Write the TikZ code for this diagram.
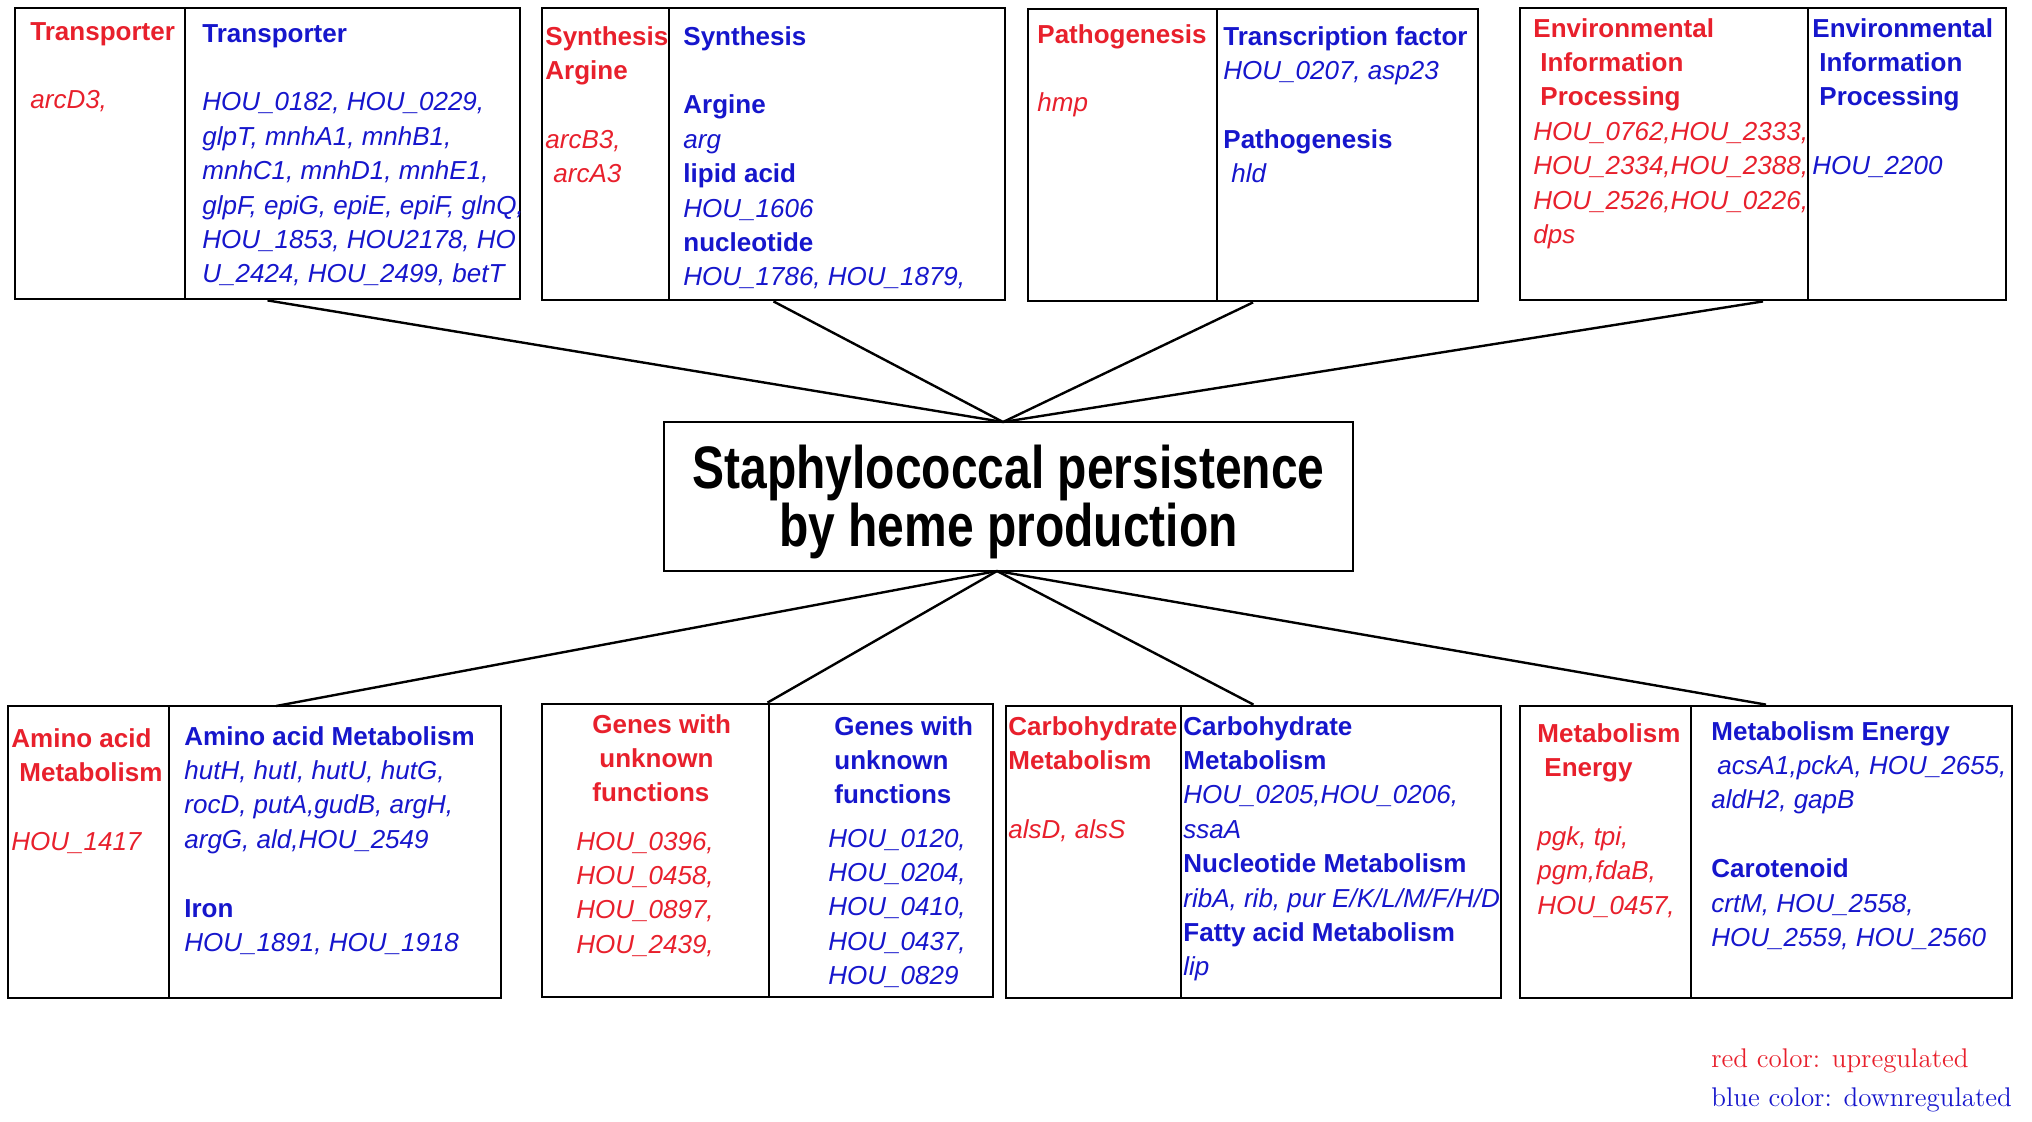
\documentclass[tikz,border=0pt]{standalone}
\usepackage{fontspec}
\setsansfont{Liberation Sans}
\newfontfamily\titlefont[FakeStretch=0.80]{Liberation Sans Bold}
\definecolor{upred}{RGB}{232,32,44}
\definecolor{downblue}{RGB}{22,22,204}
\newcommand\Lx[1]{\hbox{#1}}
\newcommand\Hd[1]{\hbox{\bfseries #1}}
\newcommand\Gn[1]{\hbox{\itshape #1}}
\newcommand\colbox[1]{\vtop{\baselineskip=17.2pt\lineskiplimit=-100pt\lineskip=0pt #1}}
\tikzset{
  box/.style={draw, line width=1.4pt, inner sep=0pt},
  divline/.style={line width=1.4pt},
  conn/.style={line width=1.2pt},
  col/.style={anchor=base west, inner sep=0pt, font=\sffamily\fontsize{13}{17.2}\selectfont},
  up/.style={col, text=upred},
  down/.style={col, text=downblue},
  titletext/.style={anchor=base, inner sep=0pt, font=\titlefont\fontsize{30}{29}\selectfont},
  legend/.style={anchor=base west, inner sep=0pt, font=\rmfamily\fontsize{13.5}{19}\selectfont}
}
\begin{document}
\begin{tikzpicture}[x=0.5pt, y=-0.5pt]
\useasboundingbox[fill=white] (0,0) rectangle (2032,1121);

% ---------- top boxes ----------
\node[box, minimum width=252.5pt, minimum height=145.5pt] (T1) at (267.5,153.5) {};
\draw[divline] (185,8) -- (185,299);
\node[box, minimum width=231.5pt, minimum height=146pt] (T2) at (773.5,154) {};
\draw[divline] (669,8) -- (669,300);
\node[box, minimum width=225pt, minimum height=146pt] (T3) at (1253,155) {};
\draw[divline] (1217,9) -- (1217,301);
\node[box, minimum width=243pt, minimum height=146pt] (T4) at (1763,154) {};
\draw[divline] (1808,8) -- (1808,300);

% ---------- centre ----------
\node[box, minimum width=344.5pt, minimum height=74.5pt] (C) at (1008.5,496.5) {};
\node[titletext] (title1) at (1008.5,488) {Staphylococcal persistence};
\node[titletext] (title2) at (1008.5,546) {by heme production};
\coordinate (ctop) at (1003,422);
\coordinate (cbot) at (997,571);

% ---------- bottom boxes ----------
\node[box, minimum width=246.5pt, minimum height=146pt] (B1) at (254.5,852) {};
\draw[divline] (169,706) -- (169,998);
\node[box, minimum width=225.5pt, minimum height=146.5pt] (B2) at (767.5,850.5) {};
\draw[divline] (769,704) -- (769,997);
\node[box, minimum width=247.5pt, minimum height=146pt] (B3) at (1253.5,852) {};
\draw[divline] (1181,706) -- (1181,998);
\node[box, minimum width=246pt, minimum height=146pt] (B4) at (1766,852) {};
\draw[divline] (1691,706) -- (1691,998);
\coordinate (b1top) at (276,706);

% ---------- connectors ----------
\draw[conn] (T1.south) -- (ctop);
\draw[conn] (T2.south) -- (ctop);
\draw[conn] (T3.south) -- (ctop);
\draw[conn] (T4.south) -- (ctop);
\draw[conn] (cbot) -- (b1top);
\draw[conn] (cbot) -- (B2.north);
\draw[conn] (cbot) -- (B3.north);
\draw[conn] (cbot) -- (B4.north);

% ---------- top texts ----------
\node[up] (t1r) at (30,40) {\colbox{\Hd{Transporter}\Lx{}\Gn{arcD3,}}};
\node[down] (t1b) at (202,42) {\colbox{\Hd{Transporter}\Lx{}%
  \Gn{HOU\_0182, HOU\_0229,}\Gn{glpT, mnhA1, mnhB1,}\Gn{mnhC1, mnhD1, mnhE1,}%
  \Gn{glpF, epiG, epiE, epiF, glnQ,}\Gn{HOU\_1853, HOU2178, HO}\Gn{U\_2424, HOU\_2499, betT}}};

\node[up] (t2r) at (545,45) {\colbox{\Hd{Synthesis}\Hd{Argine}\Lx{}\Gn{arcB3,}\Gn{\hskip4pt arcA3}}};
\node[down] (t2b) at (683,45) {\colbox{\Hd{Synthesis}\Lx{}\Hd{Argine}\Gn{arg}%
  \Hd{lipid acid}\Gn{HOU\_1606}\Hd{nucleotide}\Gn{HOU\_1786, HOU\_1879,}}};

\node[up] (t3r) at (1037,43) {\colbox{\Hd{Pathogenesis}\Lx{}\Gn{hmp}}};
\node[down] (t3b) at (1223,45) {\colbox{\Hd{Transcription factor}\Gn{HOU\_0207, asp23}\Lx{}%
  \Hd{Pathogenesis}\Gn{\hskip4pt hld}}};

\node[up] (t4r) at (1533,37) {\colbox{\Hd{Environmental}\Hd{\hskip3.5pt Information}\Hd{\hskip3.5pt Processing}%
  \Gn{HOU\_0762,HOU\_2333,}\Gn{HOU\_2334,HOU\_2388,}\Gn{HOU\_2526,HOU\_0226,}\Gn{dps}}};
\node[down] (t4b) at (1812,37) {\colbox{\Hd{Environmental}\Hd{\hskip3.5pt Information}\Hd{\hskip3.5pt Processing}%
  \Lx{}\Gn{HOU\_2200}}};

% ---------- bottom texts ----------
\node[up] (b1r) at (11,747) {\colbox{\Hd{Amino acid}\Hd{\hskip4pt Metabolism}\Lx{}\Gn{HOU\_1417}}};
\node[down] (b1b) at (184,745) {\colbox{\Hd{Amino acid Metabolism}\Gn{hutH, hutI, hutU, hutG,}%
  \Gn{rocD, putA,gudB, argH,}\Gn{argG, ald,HOU\_2549}\Lx{}\Hd{Iron}\Gn{HOU\_1891, HOU\_1918}}};

\node[up] (b2rh) at (592,733) {\colbox{\Hd{Genes with}\Hd{\hskip3.5pt unknown}\Hd{functions}}};
\node[up] (b2rg) at (576,850) {\colbox{\Gn{HOU\_0396,}\Gn{HOU\_0458,}\Gn{HOU\_0897,}\Gn{HOU\_2439,}}};
\node[down] (b2bh) at (834,735) {\colbox{\Hd{Genes with}\Hd{unknown}\Hd{functions}}};
\node[down] (b2bg) at (828,847) {\colbox{\Gn{HOU\_0120,}\Gn{HOU\_0204,}\Gn{HOU\_0410,}\Gn{HOU\_0437,}\Gn{HOU\_0829}}};

\node[up] (b3r) at (1008,735) {\colbox{\Hd{Carbohydrate}\Hd{Metabolism}\Lx{}\Gn{alsD, alsS}}};
\node[down] (b3b) at (1183,735) {\colbox{\Hd{Carbohydrate}\Hd{Metabolism}\Gn{HOU\_0205,HOU\_0206,}\Gn{ssaA}%
  \Hd{Nucleotide Metabolism}\Gn{ribA, rib, pur E/K/L/M/F/H/D}\Hd{Fatty acid Metabolism}\Gn{lip}}};

\node[up] (b4r) at (1537,742) {\colbox{\Hd{Metabolism}\Hd{\hskip3.5pt Energy}\Lx{}\Gn{pgk, tpi,}\Gn{pgm,fdaB,}\Gn{HOU\_0457,}}};
\node[down] (b4b) at (1711,740) {\colbox{\Hd{Metabolism Energy}\Gn{\hskip3pt acsA1,pckA, HOU\_2655,}\Gn{aldH2, gapB}%
  \Lx{}\Hd{Carotenoid}\Gn{crtM, HOU\_2558,}\Gn{HOU\_2559, HOU\_2560}}};

% ---------- legend ----------
\node[legend, text=upred] (lg1) at (1711,1067) {red color: upregulated};
\node[legend, text=downblue] (lg2) at (1711,1106) {blue color: downregulated};
\end{tikzpicture}
\end{document}
